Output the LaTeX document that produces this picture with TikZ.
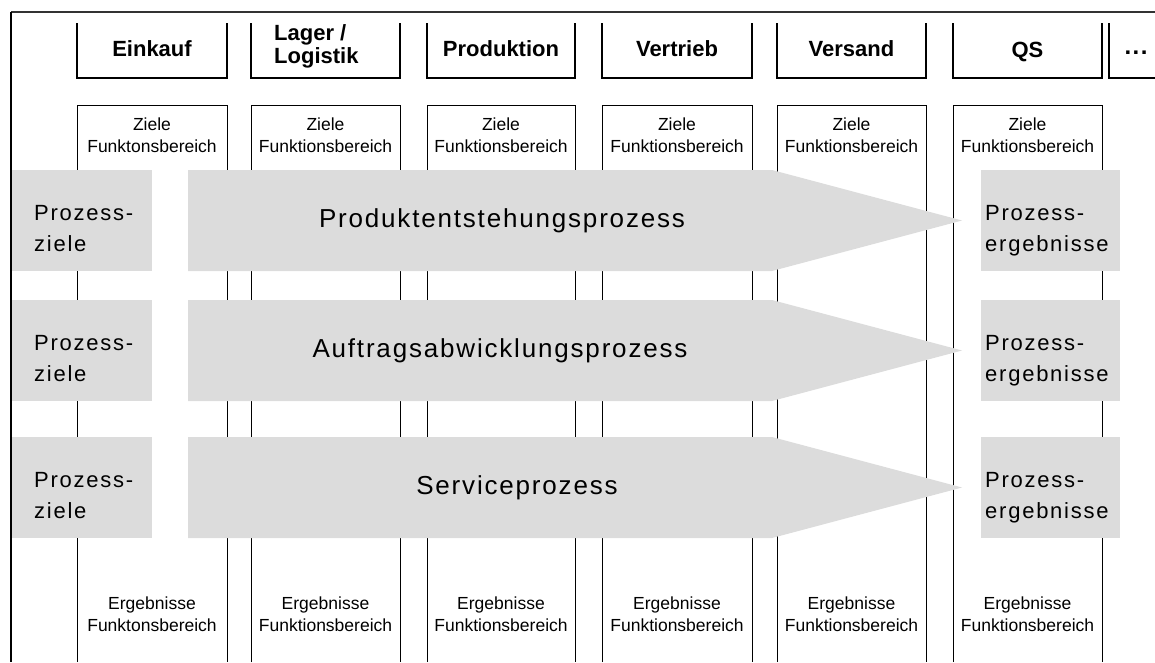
\documentclass[tikz,border=0pt]{standalone}
\usepackage{fontspec}
\setmainfont{Liberation Sans}
\definecolor{boxgray}{RGB}{220,220,220}
\definecolor{framegray}{RGB}{50,50,50}
\begin{document}
\begin{tikzpicture}[x=1pt,y=-1pt,
  hdrline/.style={line width=1.6pt,black},
  colline/.style={line width=0.9pt,black},
  hdrtext/.style={font=\bfseries\fontsize{22}{23}\selectfont,inner sep=0pt,align=left},
  smalltext/.style={font=\fontsize{17.5}{22}\selectfont,inner sep=0pt,align=center},
  sidetext/.style={font=\addfontfeatures{LetterSpace=8}\fontsize{22}{30.5}\selectfont,inner sep=0pt,align=left,anchor=base west},
  proctext/.style={font=\addfontfeatures{LetterSpace=7}\fontsize{26}{30}\selectfont,inner sep=0pt},
  graybox/.style={fill=boxgray,draw=none,inner sep=0pt,minimum width=140pt,minimum height=101pt}
]
\useasboundingbox (0,0) rectangle (1155,662);

% outer frame: left and top edges
\draw[line width=2pt,framegray] (11,12) -- (1155,12);
\draw[line width=2.6pt,black] (11,12) -- (11,662);

% header boxes (open at the top)
\foreach \l/\r in {77/227,251/400,427/575,602/752,777/926,953/1102}{
  \draw[hdrline] (\l,23) |- (\r,78) -- (\r,23);
}
\draw[hdrline] (1109,23) |- (1155,78);

\node[hdrtext] (h1) at (152,49) {Einkauf};
\node[hdrtext,anchor=north west] (h2) at (274,24) {Lager /\\Logistik};
\node[hdrtext] (h3) at (501,49) {Produktion};
\node[hdrtext] (h4) at (677,49) {Vertrieb};
\node[hdrtext] (h5) at (851.5,49) {Versand};
\node[hdrtext] (h6) at (1027.5,52) {QS};
\node[hdrtext,font=\bfseries\fontsize{24}{24}\selectfont\addfontfeatures{LetterSpace=6},anchor=base] (h7) at (1136,54) {...};

% function area columns: goals at the top, results at the bottom
\foreach \l/\r in {77/227,251/400,427/575,602/752,777/926,953/1102}{
  \draw[colline] (\l,662) |- (\r,105) -- (\r,662);
}
\node[smalltext] (z1) at (152,135) {Ziele\\Funktonsbereich};
\node[smalltext] (z2) at (325.5,135) {Ziele\\Funktionsbereich};
\node[smalltext] (z3) at (501,135) {Ziele\\Funktionsbereich};
\node[smalltext] (z4) at (677,135) {Ziele\\Funktionsbereich};
\node[smalltext] (z5) at (851.5,135) {Ziele\\Funktionsbereich};
\node[smalltext] (z6) at (1027.5,135) {Ziele\\Funktionsbereich};

\node[smalltext] (e1) at (152,614) {Ergebnisse\\Funktonsbereich};
\node[smalltext] (e2) at (325.5,614) {Ergebnisse\\Funktionsbereich};
\node[smalltext] (e3) at (501,614) {Ergebnisse\\Funktionsbereich};
\node[smalltext] (e4) at (677,614) {Ergebnisse\\Funktionsbereich};
\node[smalltext] (e5) at (851.5,614) {Ergebnisse\\Funktionsbereich};
\node[smalltext] (e6) at (1027.5,614) {Ergebnisse\\Funktionsbereich};

% process rows: goals box, process arrow, results box
\foreach \t/\n in {170/1,300/2,437/3}{
  \node[graybox] (goal\n) at (82,\t+50.5) {};
  \node[graybox,minimum width=139pt] (res\n) at (1050.5,\t+50.5) {};
  \fill[boxgray] (188,\t) -- (772,\t) -- (962,\t+50.5) -- (772,\t+101) -- (188,\t+101) -- cycle;
  \node[sidetext] (goaltext\n) at (34,\t+81) {Prozess-\\ziele};
  \node[sidetext] (restext\n) at (985,\t+81) {Prozess-\\ergebnisse};
}

\node[proctext] (p1) at (502,221) {Produktentstehungsprozess};
\node[proctext] (p2) at (500,351) {Auftragsabwicklungsprozess};
\node[proctext] (p3) at (517,488) {Serviceprozess};
\end{tikzpicture}
\end{document}
